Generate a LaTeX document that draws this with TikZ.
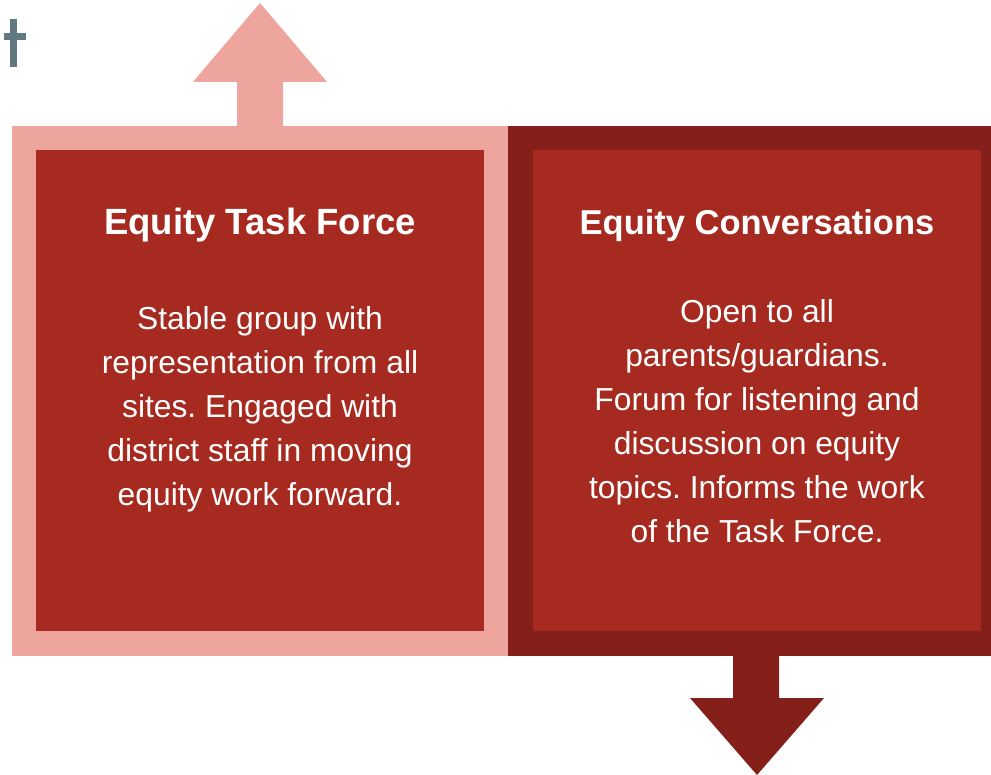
\documentclass[tikz,border=0pt]{standalone}
\usepackage{fontspec}
\setmainfont{Liberation Sans}
\frenchspacing
\definecolor{lightpink}{HTML}{EDA59D}
\definecolor{innerred}{HTML}{A62A20}
\definecolor{darkred}{HTML}{841F19}
\definecolor{slate}{HTML}{607880}
\begin{document}
\begin{tikzpicture}[x=1pt,y=-1pt,
  titletext/.style={text=white,font=\fontsize{36.5}{42}\selectfont\bfseries,align=center},
  bodytext/.style={text=white,font=\fontsize{31.8}{44}\selectfont,align=center}]
\useasboundingbox (0,0) rectangle (991,775);
% cut-off glyph
\fill[slate] (10,19) rectangle (17,67);
\fill[slate] (4,33) rectangle (26,40);
% up arrow
\fill[lightpink] (237,127) -- (237,82) -- (193,82) -- (260,3) -- (327,82) -- (283,82) -- (283,127) -- cycle;
% down arrow
\fill[darkred] (733,655) -- (733,698) -- (690,698) -- (757,775) -- (824,698) -- (779,698) -- (779,655) -- cycle;
% boxes
\fill[lightpink] (12,126) rectangle (508,656);
\fill[darkred] (508,126) rectangle (991,656);
\node[fill=innerred,minimum width=448pt,minimum height=481pt,inner sep=0pt] (left) at (260,390.5) {};
\node[fill=innerred,minimum width=448pt,minimum height=481pt,inner sep=0pt] (right) at (757,390.5) {};
% texts
\node[titletext] (lt) at (260,225) {Equity Task Force};
\node[bodytext] (lb) at (260,409) {Stable group with\\representation from all\\sites. Engaged with\\district staff in moving\\equity work forward.};
\node[titletext,font=\fontsize{34.5}{42}\selectfont\bfseries] (rt) at (757,226) {Equity Conversations};
\node[bodytext] (rb) at (757,421) {Open to all\\parents/guardians.\\Forum for listening and\\discussion on equity\\topics. Informs the work\\of the Task Force.};
\end{tikzpicture}
\end{document}
